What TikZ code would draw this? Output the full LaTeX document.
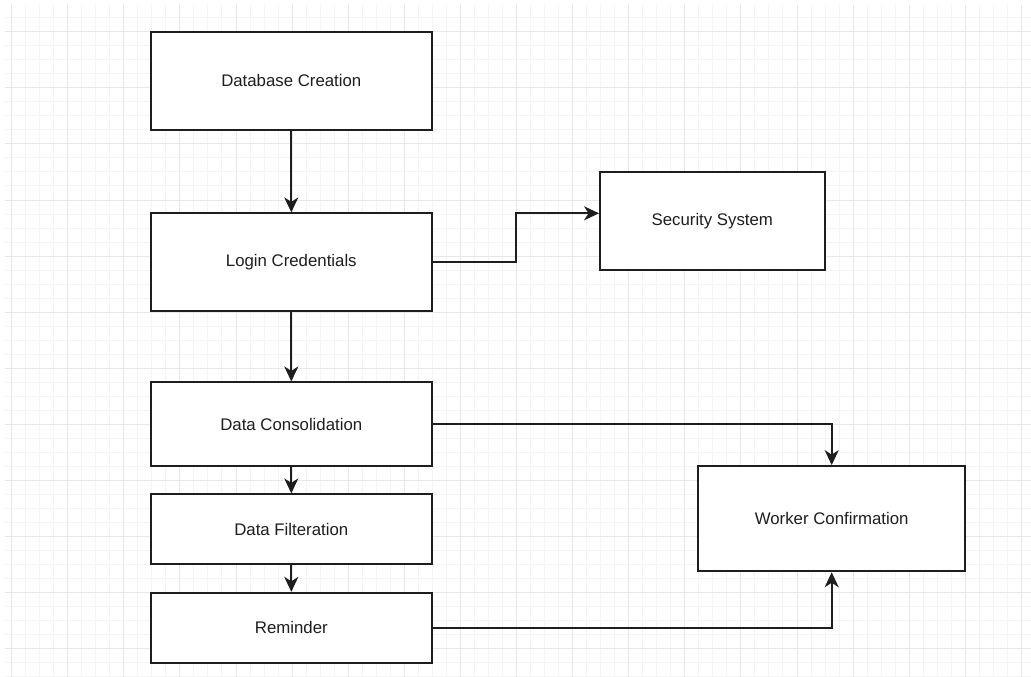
\documentclass[tikz,border=0pt]{standalone}
\usepackage{fontspec}
\setmainfont{Liberation Sans}
\usetikzlibrary{arrows.meta,calc}
\definecolor{gridminor}{HTML}{F4F4F4}
\definecolor{gridmajor}{HTML}{E8E8E8}
\definecolor{ink}{HTML}{1E1E1E}
\tikzset{
  stepbox/.style={draw=ink, line width=1.8pt, fill=white, inner sep=0pt,
    font=\fontsize{16.8}{20}\selectfont, text=ink, anchor=center},
  flow/.style={draw=ink, line width=1.8pt,
    -{Stealth[length=15pt,width=14pt,inset=4.5pt]}},
}
\begin{document}
\begin{tikzpicture}[x=1pt,y=-1pt]
  % page and grid
  \fill[white] (0,0) rectangle (1031,677);
  \useasboundingbox (0,0) rectangle (1031,677);
  \begin{scope}
    \clip (5,5) rectangle (1031,677);
    \foreach \k in {0,...,73}
      \draw[gridminor, line width=1pt] ({11.6+14.025*\k},5) -- ({11.6+14.025*\k},677);
    \foreach \k in {-1,...,47}
      \draw[gridminor, line width=1pt] (5,{31.7+14.025*\k}) -- (1031,{31.7+14.025*\k});
    \foreach \k in {0,...,18}
      \draw[gridmajor, line width=1pt] ({11.6+56.1*\k},5) -- ({11.6+56.1*\k},677);
    \foreach \k in {0,...,11}
      \draw[gridmajor, line width=1pt] (5,{31.7+56.1*\k}) -- (1031,{31.7+56.1*\k});
  \end{scope}

  % process boxes
  \node[stepbox, minimum width=280.7pt, minimum height=98.3pt] (db)  at (291.3,80.9)  {Database Creation};
  \node[stepbox, minimum width=280.7pt, minimum height=98pt]   (log) at (291.3,262.3) {Login Credentials};
  \node[stepbox, minimum width=224.7pt, minimum height=98pt]   (sec) at (712.3,221)   {Security System};
  \node[stepbox, minimum width=280.7pt, minimum height=83.7pt] (con) at (291.3,424.2) {Data Consolidation};
  \node[stepbox, minimum width=280.7pt, minimum height=70pt]   (fil) at (291.3,529.3) {Data Filteration};
  \node[stepbox, minimum width=280.7pt, minimum height=70.3pt] (rem) at (291.3,627.9) {Reminder};
  \node[stepbox, minimum width=267.3pt, minimum height=105.3pt] (wrk) at (831.7,518.7) {Worker Confirmation};

  % connectors
  \coordinate (secin) at ([yshift=7.7pt]sec.west);
  \coordinate (bend) at ($(log.east)!0.5!(secin)$);
  \draw[flow] (db.south) -- (log.north);
  \draw[flow] (log.east) -| (bend) |- (secin);
  \draw[flow] (log.south) -- (con.north);
  \draw[flow] (con.east) -| (wrk.north);
  \draw[flow] (con.south) -- (fil.north);
  \draw[flow] (fil.south) -- (rem.north);
  \draw[flow] (rem.east) -| (wrk.south);
\end{tikzpicture}
\end{document}
